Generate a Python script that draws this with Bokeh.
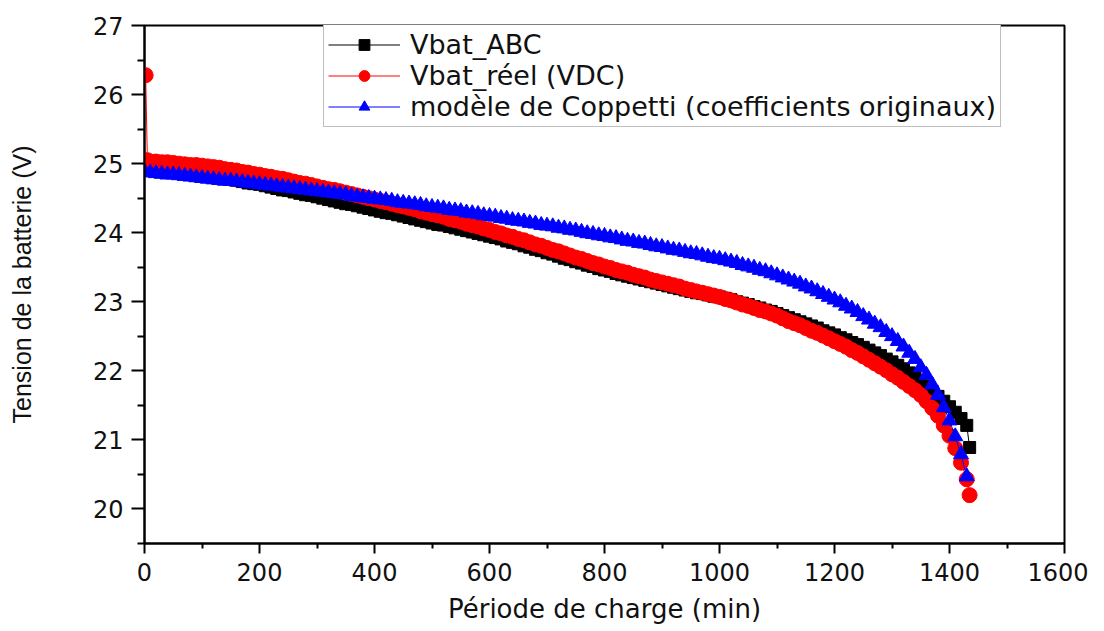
from bokeh.plotting import figure
from bokeh.models import Range1d, FixedTicker, Legend
from bokeh.embed import file_html
from bokeh.resources import INLINE

# ---------------- data ----------------
t_abc = list(range(0, 1440, 10)) + [1435]
v_abc = [25.05, 25.02, 25.00, 24.98, 24.96, 24.95, 24.93, 24.91, 24.90, 24.88,
         24.86, 24.84, 24.83, 24.81, 24.79, 24.77, 24.76, 24.74, 24.72, 24.71,
         24.70, 24.68, 24.66, 24.64, 24.62, 24.61, 24.59, 24.57, 24.55, 24.54,
         24.52, 24.50, 24.48, 24.46, 24.44, 24.42, 24.41, 24.39, 24.37, 24.35,
         24.33, 24.31, 24.29, 24.28, 24.26, 24.24, 24.22, 24.20, 24.18, 24.16,
         24.14, 24.12, 24.11, 24.09, 24.07, 24.05, 24.03, 24.01, 23.99, 23.97,
         23.95, 23.93, 23.91, 23.88, 23.86, 23.84, 23.81, 23.79, 23.76, 23.74,
         23.71, 23.69, 23.66, 23.63, 23.61, 23.58, 23.56, 23.53, 23.51, 23.48,
         23.46, 23.44, 23.41, 23.39, 23.37, 23.35, 23.33, 23.31, 23.29, 23.27,
         23.25, 23.23, 23.21, 23.19, 23.17, 23.15, 23.13, 23.12, 23.10, 23.08,
         23.07, 23.05, 23.03, 23.00, 22.98, 22.96, 22.93, 22.91, 22.88, 22.86,
         22.83, 22.80, 22.77, 22.74, 22.71, 22.68, 22.65, 22.62, 22.58, 22.55,
         22.52, 22.48, 22.45, 22.41, 22.38, 22.34, 22.30, 22.26, 22.22, 22.17,
         22.13, 22.08, 22.03, 21.97, 21.91, 21.85, 21.78, 21.70, 21.63, 21.56,
         21.48, 21.40, 21.31, 21.21, 20.89]

t_reel = [2, 5] + list(range(10, 1440, 10)) + [1435]
v_reel = [26.28, 25.05,
          25.03, 25.03, 25.02, 25.02, 25.01, 25.00, 24.99, 24.98, 24.98, 24.97,
          24.96, 24.95, 24.94, 24.92, 24.91, 24.90, 24.88, 24.87, 24.85, 24.84,
          24.82, 24.81, 24.79, 24.78, 24.76, 24.74, 24.72, 24.71, 24.69, 24.67,
          24.65, 24.63, 24.62, 24.60, 24.58, 24.56, 24.54, 24.52, 24.50, 24.48,
          24.46, 24.44, 24.42, 24.40, 24.38, 24.36, 24.34, 24.31, 24.29, 24.27,
          24.25, 24.23, 24.20, 24.18, 24.16, 24.13, 24.11, 24.09, 24.06, 24.04,
          24.01, 23.99, 23.96, 23.94, 23.91, 23.89, 23.86, 23.83, 23.81, 23.78,
          23.75, 23.73, 23.70, 23.67, 23.64, 23.62, 23.59, 23.56, 23.54, 23.51,
          23.49, 23.46, 23.44, 23.42, 23.39, 23.37, 23.35, 23.32, 23.30, 23.28,
          23.26, 23.24, 23.22, 23.19, 23.17, 23.15, 23.13, 23.11, 23.09, 23.07,
          23.04, 23.02, 22.99, 22.96, 22.94, 22.91, 22.88, 22.86, 22.83, 22.80,
          22.76, 22.72, 22.69, 22.66, 22.62, 22.58, 22.55, 22.51, 22.47, 22.43,
          22.39, 22.35, 22.30, 22.26, 22.21, 22.16, 22.11, 22.06, 22.01, 21.95,
          21.90, 21.84, 21.78, 21.72, 21.65, 21.56, 21.46, 21.35, 21.21, 21.06,
          20.88, 20.67, 20.43, 20.20]

t_cop = list(range(0, 1440, 10))
v_cop = [24.88, 24.87, 24.86, 24.85, 24.84, 24.84, 24.83, 24.82, 24.81, 24.80,
         24.79, 24.78, 24.77, 24.76, 24.75, 24.75, 24.74, 24.73, 24.72, 24.71,
         24.70, 24.69, 24.68, 24.67, 24.66, 24.65, 24.64, 24.63, 24.62, 24.61,
         24.60, 24.59, 24.58, 24.57, 24.56, 24.55, 24.53, 24.52, 24.51, 24.50,
         24.49, 24.48, 24.47, 24.46, 24.44, 24.43, 24.42, 24.41, 24.40, 24.38,
         24.37, 24.36, 24.35, 24.33, 24.32, 24.31, 24.29, 24.28, 24.27, 24.25,
         24.24, 24.23, 24.21, 24.20, 24.18, 24.17, 24.16, 24.14, 24.13, 24.11,
         24.10, 24.09, 24.07, 24.06, 24.04, 24.03, 24.01, 23.99, 23.98, 23.96,
         23.95, 23.93, 23.92, 23.90, 23.88, 23.87, 23.85, 23.84, 23.82, 23.80,
         23.79, 23.77, 23.75, 23.74, 23.72, 23.70, 23.69, 23.67, 23.65, 23.63,
         23.62, 23.60, 23.58, 23.56, 23.53, 23.51, 23.49, 23.46, 23.44, 23.41,
         23.38, 23.35, 23.32, 23.29, 23.26, 23.22, 23.19, 23.15, 23.11, 23.07,
         23.03, 22.99, 22.94, 22.90, 22.85, 22.79, 22.74, 22.68, 22.63, 22.56,
         22.50, 22.43, 22.35, 22.26, 22.17, 22.05, 21.94, 21.80, 21.65, 21.47,
         21.28, 21.05, 20.79, 20.47]

labels = ["Vbat_ABC", "Vbat_réel (VDC)", "modèle de Coppetti (coefficients originaux)"]
x_ticks = [0, 200, 400, 600, 800, 1000, 1200, 1400, 1600]
y_ticks = [20, 21, 22, 23, 24, 25, 26, 27]

# ---------------- figure ----------------
p = figure(width=1088, height=615, output_backend="svg", toolbar_location=None,
           x_range=Range1d(0, 1600), y_range=Range1d(19.5, 27),
           min_border_left=144, min_border_top=25, min_border_right=24, min_border_bottom=72,
           frame_width=920, frame_height=518)
p.grid.visible = False
p.background_fill_color = "white"
p.border_fill_color = "white"
p.outline_line_color = "black"
p.outline_line_width = 2

p.xaxis.ticker = FixedTicker(ticks=x_ticks, minor_ticks=[v + 100 for v in x_ticks[:-1]])
p.yaxis.ticker = FixedTicker(ticks=y_ticks, minor_ticks=[19.5] + [v + 0.5 for v in y_ticks[:-1]])

for ax in (p.xaxis[0], p.yaxis[0]):
    ax.axis_line_width = 2
    ax.major_tick_line_width = 2
    ax.minor_tick_line_width = 2
    ax.major_tick_in = 0
    ax.minor_tick_in = 0
    ax.major_label_text_font = "DejaVu Sans"
    ax.major_label_text_font_size = "24px"
    ax.major_label_text_color = "#111111"
    ax.axis_label_text_font_style = "normal"
    ax.axis_label_text_color = "#111111"

p.xaxis.major_tick_out = 10
p.xaxis.minor_tick_out = 5
p.xaxis.major_label_standoff = 9
p.xaxis.axis_label = "Période de charge (min)"
p.xaxis.axis_label_text_font = "DejaVu Sans"
p.xaxis.axis_label_text_font_size = "26px"
p.xaxis.axis_label_standoff = 10

p.yaxis.major_tick_out = 13
p.yaxis.minor_tick_out = 7
p.yaxis.major_label_standoff = 8
p.yaxis.axis_label = "Tension de la batterie (V)"
p.yaxis.axis_label_text_font = "Liberation Sans"
p.yaxis.axis_label_text_font_size = "25px"
p.yaxis.axis_label_standoff = 54

# series: black squares, red circles, blue triangles (drawn in that order)
l1 = p.line(t_abc, v_abc, line_color="black", line_width=1)
s1 = p.scatter(t_abc, v_abc, marker="square", size=12, fill_color="black", line_color="black")
l2 = p.line(t_reel, v_reel, line_color="#ff0000", line_width=1)
s2 = p.scatter(t_reel, v_reel, marker="circle", size=15, fill_color="#ff0000", line_color="#ff0000")
l3 = p.line(t_cop, v_cop, line_color="#0000ff", line_width=1)
s3 = p.scatter(t_cop, v_cop, marker="triangle", size=15, fill_color="#0000ff", line_color="#0000ff")

legend = Legend(items=[(labels[0], [l1, s1]), (labels[1], [l2, s2]), (labels[2], [l3, s3])],
                location=(179, 416))
legend.label_text_font = "DejaVu Sans"
legend.label_text_font_size = "27px"
legend.label_text_color = "#111111"
legend.glyph_width = 72
legend.glyph_height = 27
legend.label_height = 27
legend.label_standoff = 10
legend.padding = 4
legend.spacing = 0
legend.margin = 0
legend.border_line_color = "#808080"
legend.border_line_width = 1
legend.background_fill_alpha = 1
p.add_layout(legend)

open("out.html", "w").write(file_html(p, INLINE))
